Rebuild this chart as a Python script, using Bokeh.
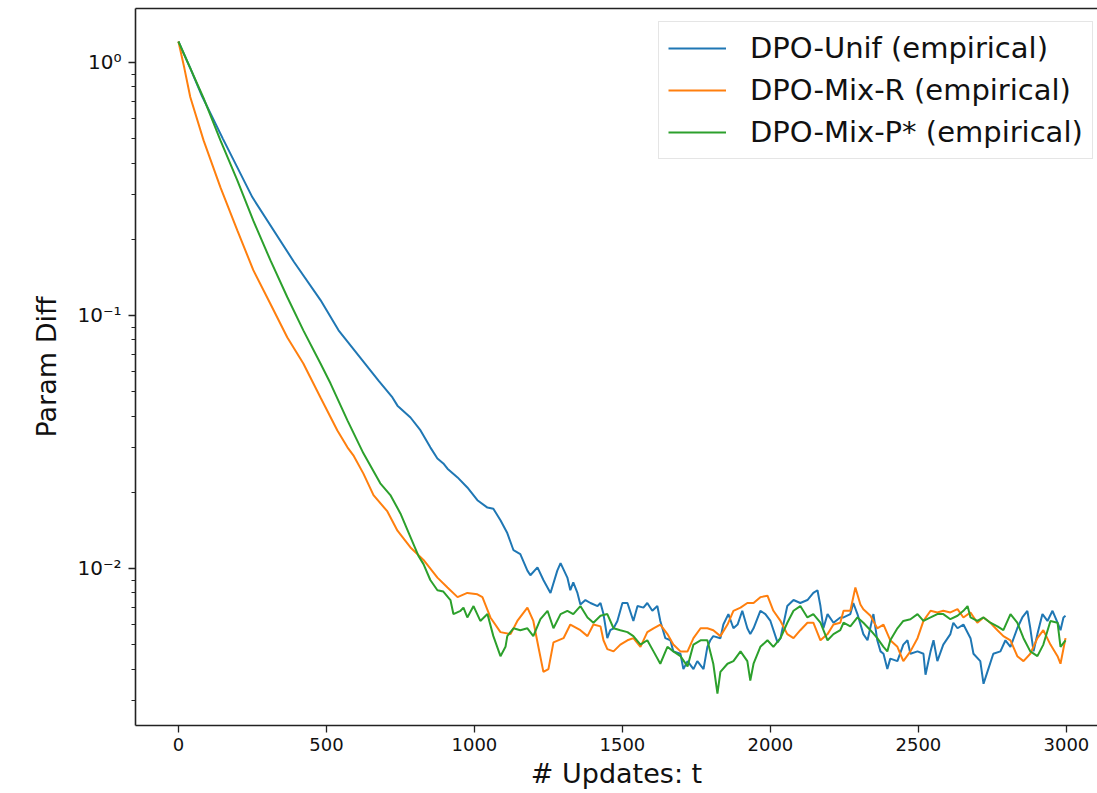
from bokeh.plotting import figure
from bokeh.models import Range1d, FixedTicker, LinearAxis, Legend, LegendItem
from bokeh.embed import file_html
from bokeh.resources import INLINE

# ---------------- data ----------------
series_names = ["DPO-Unif (empirical)", "DPO-Mix-R (empirical)", "DPO-Mix-P* (empirical)"]
series_colors = ["#1f77b4", "#ff7f0e", "#2ca02c"]

t_unif = [0, 40, 80, 150, 250, 390, 480, 541, 676, 723, 740, 784, 818, 851, 875, 895, 909, 943, 976,
          1010, 1044, 1064, 1088, 1111, 1132, 1155, 1179, 1189, 1213, 1233, 1257, 1280, 1291, 1314,
          1324, 1334, 1348, 1358, 1375, 1392, 1416, 1426, 1436, 1449, 1459, 1470, 1483, 1500, 1517,
          1537, 1551, 1571, 1584, 1601, 1618, 1628, 1645, 1662, 1672, 1696, 1706, 1720, 1740, 1753,
          1774, 1787, 1797, 1807, 1831, 1841, 1858, 1875, 1889, 1905, 1922, 1932, 1943, 1966, 1983,
          2000, 2024, 2034, 2057, 2078, 2101, 2125, 2145, 2159, 2169, 2179, 2193, 2213, 2236, 2247,
          2270, 2280, 2294, 2314, 2328, 2348, 2361, 2372, 2382, 2395, 2405, 2429, 2449, 2463, 2473,
          2497, 2517, 2524, 2541, 2551, 2564, 2584, 2608, 2618, 2632, 2652, 2676, 2686, 2709, 2720,
          2733, 2753, 2777, 2794, 2811, 2834, 2851, 2868, 2878, 2889, 2902, 2919, 2936, 2953, 2970,
          2980, 2990, 2997]
v_unif = [1.21, 0.95, 0.735, 0.50, 0.293, 0.163, 0.115, 0.0873, 0.0553, 0.0474, 0.0440, 0.0395, 0.0351,
          0.0301, 0.0272, 0.026, 0.0248, 0.0229, 0.0209, 0.0186, 0.0174, 0.0172, 0.0155, 0.0138,
          0.0118, 0.0114, 0.0098, 0.0094, 0.0101, 0.0090, 0.0080, 0.0098, 0.0105, 0.0092, 0.0082,
          0.0088, 0.0080, 0.0072, 0.0075, 0.0073, 0.0071, 0.0073, 0.0066, 0.0053, 0.0057, 0.0058,
          0.0062, 0.0073, 0.0073, 0.0062, 0.0071, 0.0070, 0.0073, 0.0068, 0.0071, 0.0062, 0.0053,
          0.0052, 0.0047, 0.0046, 0.0040, 0.0043, 0.0040, 0.0043, 0.0040, 0.0049, 0.0052, 0.0054,
          0.0053, 0.0060, 0.0066, 0.0058, 0.0060, 0.0068, 0.0058, 0.0055, 0.0058, 0.0068, 0.0066,
          0.0062, 0.0051, 0.0053, 0.0071, 0.0075, 0.0073, 0.0075, 0.0080, 0.0082, 0.0071, 0.0058,
          0.0066, 0.0061, 0.0064, 0.0064, 0.0066, 0.0073, 0.0066, 0.0055, 0.0052, 0.0066, 0.0052,
          0.0047, 0.0046, 0.0040, 0.0044, 0.0043, 0.0050, 0.0052, 0.0046, 0.0047, 0.0046, 0.0038,
          0.0047, 0.0052, 0.0043, 0.0050, 0.0055, 0.0061, 0.0058, 0.0060, 0.0053, 0.0046, 0.0043,
          0.0035, 0.0039, 0.0046, 0.0047, 0.0052, 0.0049, 0.0058, 0.0064, 0.0068, 0.0058, 0.0047,
          0.0055, 0.0066, 0.0062, 0.0068, 0.0061, 0.0057, 0.0064, 0.0065]

t_mixr = [0, 20, 40, 85, 142, 199, 253, 311, 368, 422, 480, 537, 571, 591, 625, 659, 706, 740, 784,
          828, 875, 909, 943, 976, 1010, 1027, 1054, 1088, 1122, 1145, 1179, 1199, 1216, 1233, 1250,
          1267, 1301, 1324, 1358, 1382, 1402, 1426, 1436, 1449, 1470, 1493, 1517, 1537, 1561, 1584,
          1605, 1628, 1652, 1672, 1696, 1720, 1740, 1764, 1787, 1807, 1831, 1855, 1875, 1899, 1922,
          1943, 1966, 1990, 2010, 2034, 2057, 2078, 2101, 2125, 2145, 2169, 2193, 2213, 2236, 2247,
          2270, 2287, 2304, 2314, 2338, 2361, 2382, 2405, 2429, 2449, 2473, 2497, 2517, 2541, 2564,
          2584, 2608, 2632, 2652, 2676, 2699, 2720, 2743, 2767, 2787, 2811, 2834, 2855, 2878, 2902,
          2922, 2946, 2970, 2980, 2997]
v_mixr = [1.21, 0.95, 0.73, 0.492, 0.321, 0.217, 0.151, 0.111, 0.0818, 0.0646, 0.0474, 0.0351,
          0.0301, 0.0280, 0.0237, 0.0195, 0.0168, 0.0141, 0.0121, 0.0108, 0.0092, 0.0084, 0.0077,
          0.0080, 0.0079, 0.0077, 0.0064, 0.0056, 0.0055, 0.0062, 0.0070, 0.0062, 0.0049, 0.0039,
          0.0040, 0.0051, 0.0053, 0.0060, 0.0057, 0.0054, 0.0060, 0.0059, 0.0052, 0.0048, 0.0047,
          0.0050, 0.0052, 0.0053, 0.0049, 0.0056, 0.0058, 0.0060, 0.0055, 0.0050, 0.0047, 0.0047,
          0.0053, 0.0058, 0.0058, 0.0057, 0.0054, 0.0060, 0.0068, 0.0070, 0.0073, 0.0073, 0.0077,
          0.0078, 0.0068, 0.0062, 0.0055, 0.0053, 0.0057, 0.0061, 0.0061, 0.0052, 0.0055, 0.0060,
          0.0061, 0.0068, 0.0068, 0.0084, 0.0072, 0.0069, 0.0065, 0.0058, 0.0060, 0.0052, 0.0049,
          0.0043, 0.0047, 0.0053, 0.0062, 0.0068, 0.0067, 0.0068, 0.0067, 0.0069, 0.0064, 0.0067,
          0.0061, 0.0064, 0.0061, 0.0057, 0.0054, 0.0052, 0.0045, 0.0043, 0.0046, 0.0053, 0.0057,
          0.0050, 0.0045, 0.0042, 0.0053]

t_mixp = [0, 40, 84, 142, 199, 253, 311, 368, 422, 480, 514, 571, 625, 682, 716, 750, 784, 811, 828,
          851, 875, 895, 919, 929, 953, 963, 976, 997, 1020, 1044, 1064, 1088, 1105, 1111, 1132,
          1155, 1179, 1199, 1223, 1247, 1267, 1291, 1314, 1334, 1358, 1382, 1402, 1426, 1449, 1470,
          1493, 1517, 1537, 1561, 1584, 1605, 1628, 1652, 1672, 1696, 1720, 1740, 1764, 1787, 1807,
          1821, 1831, 1855, 1875, 1899, 1922, 1932, 1943, 1966, 1990, 2010, 2034, 2057, 2078, 2101,
          2125, 2145, 2169, 2193, 2213, 2236, 2247, 2270, 2294, 2314, 2338, 2361, 2382, 2395, 2405,
          2429, 2449, 2473, 2497, 2517, 2541, 2564, 2584, 2608, 2632, 2652, 2666, 2676, 2699, 2720,
          2743, 2767, 2787, 2811, 2834, 2855, 2878, 2902, 2922, 2946, 2970, 2980, 2997]
v_mixp = [1.21, 0.95, 0.727, 0.492, 0.342, 0.237, 0.165, 0.118, 0.0873, 0.0646, 0.0538, 0.0385, 0.0285,
          0.0217, 0.0195, 0.0165, 0.0133, 0.0112, 0.0104, 0.0090, 0.0082, 0.0081, 0.0075, 0.0066,
          0.0068, 0.0070, 0.0064, 0.0071, 0.0062, 0.0066, 0.0054, 0.0045, 0.0049, 0.0054, 0.0058,
          0.0057, 0.0058, 0.0054, 0.0063, 0.0068, 0.0058, 0.0066, 0.0068, 0.0066, 0.0071, 0.0064,
          0.0061, 0.0065, 0.0066, 0.0058, 0.0057, 0.0056, 0.0054, 0.0050, 0.0052, 0.0047, 0.0042,
          0.0049, 0.0047, 0.0045, 0.0041, 0.0050, 0.0052, 0.0052, 0.0042, 0.0032, 0.0039, 0.0042,
          0.0043, 0.0047, 0.0043, 0.0036, 0.0042, 0.0049, 0.0052, 0.0049, 0.0053, 0.0061, 0.0068,
          0.0071, 0.0064, 0.0066, 0.0061, 0.0052, 0.0055, 0.0057, 0.0061, 0.0059, 0.0064, 0.0061,
          0.0057, 0.0053, 0.0049, 0.0047, 0.0052, 0.0058, 0.0062, 0.0063, 0.0066, 0.0062, 0.0064,
          0.0066, 0.0066, 0.0063, 0.0065, 0.0068, 0.0071, 0.0064, 0.0062, 0.0064, 0.0061, 0.0059,
          0.0057, 0.0066, 0.0061, 0.0053, 0.0047, 0.0045, 0.0050, 0.0062, 0.0061, 0.0049, 0.0052]

x_ticks = [0, 500, 1000, 1500, 2000, 2500, 3000]
y_major_ticks = [0.01, 0.1, 1.0]
y_tick_labels = {0.01: "10\u207b\u00b2", 0.1: "10\u207b\u00b9", 1.0: "10\u2070"}
x_label = "# Updates: t"
y_label = "Param Diff"

# ---------------- figure ----------------
FONT = "DejaVu Sans"
p = figure(width=1097, height=793, y_axis_type="log",
           x_range=Range1d(-145, 3105), y_range=Range1d(0.002394, 1.634),
           output_backend="svg", toolbar_location=None,
           min_border_left=135, min_border_right=0, min_border_top=8, min_border_bottom=68)
p.outline_line_color = None
p.xgrid.visible = False
p.ygrid.visible = False
p.background_fill_color = "white"
p.border_fill_color = "white"

minor = []
for d in [0.001, 0.01, 0.1]:
    for k in range(2, 10):
        minor.append(round(d * k, 6))

p.xaxis.ticker = FixedTicker(ticks=x_ticks)
p.yaxis.ticker = FixedTicker(ticks=y_major_ticks, minor_ticks=minor)
p.yaxis.major_label_overrides = y_tick_labels

for ax in (p.xaxis[0], p.yaxis[0]):
    ax.axis_line_color = "#222222"
    ax.axis_line_width = 1.6
    ax.major_tick_line_color = "#222222"
    ax.major_tick_line_width = 1.3
    ax.major_tick_out = 7
    ax.major_tick_in = 0
    ax.minor_tick_line_color = "#222222"
    ax.minor_tick_line_width = 1.0
    ax.minor_tick_out = 4
    ax.minor_tick_in = 0
    ax.major_label_text_font = FONT
    ax.major_label_text_color = "#111111"
    ax.axis_label_text_font = FONT
    ax.axis_label_text_font_style = "normal"
    ax.axis_label_text_color = "#111111"

p.xaxis.minor_tick_line_color = None
p.xaxis.major_label_text_font_size = "18px"
p.xaxis.major_label_standoff = 5
p.xaxis.axis_label = x_label
p.xaxis.axis_label_text_font_size = "27px"
p.xaxis.axis_label_standoff = 4

p.yaxis.major_label_text_font_size = "20px"
p.yaxis.major_label_standoff = 7
p.yaxis.axis_label = y_label
p.yaxis.axis_label_text_font_size = "27px"
p.yaxis.axis_label_standoff = 12

top = LinearAxis(ticker=FixedTicker(ticks=[]),
                 major_tick_line_color=None, minor_tick_line_color=None,
                 major_label_standoff=0, major_tick_out=0, minor_tick_out=0,
                 axis_line_color="#222222", axis_line_width=1.6)
p.add_layout(top, "above")

items = []
for name, color, tt, vv in zip(series_names, series_colors,
                               [t_unif, t_mixr, t_mixp], [v_unif, v_mixr, v_mixp]):
    r = p.line(tt, vv, line_color=color, line_width=2)
    items.append(LegendItem(label=name, renderers=[r]))

legend = Legend(items=items, location=(523, 566))
legend.label_text_font = FONT
legend.label_text_font_size = "29px"
legend.label_text_color = "#111111"
legend.glyph_width = 58
legend.label_standoff = 24
legend.padding = 9
legend.spacing = 8
legend.margin = 0
legend.border_line_color = "#cccccc"
legend.border_line_width = 1.2
legend.background_fill_alpha = 0.85
p.add_layout(legend)

open("out.html", "w").write(file_html(p, INLINE))
